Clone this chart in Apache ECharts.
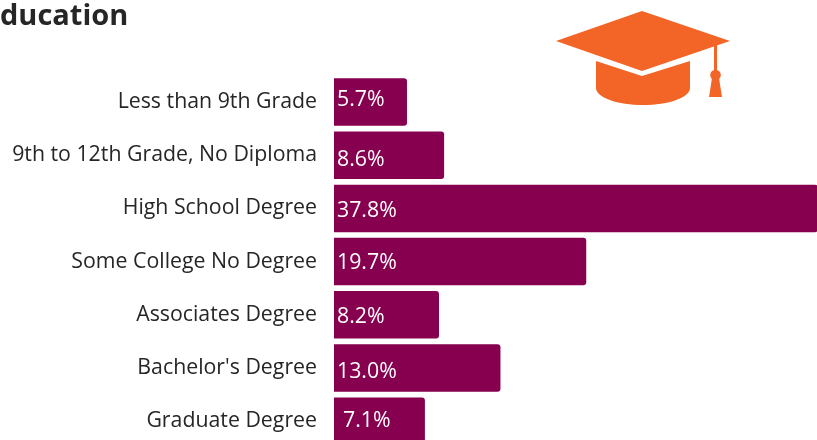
<!DOCTYPE html>
<html><head><meta charset="utf-8">
<style>html,body{margin:0;padding:0;background:#fff;overflow:hidden}#c{width:817px;height:440px}</style>
<script src="https://cdn.jsdelivr.net/npm/echarts@6/dist/echarts.min.js"></script>
</head><body><div id="c"></div>
<script>
const titleText = "ducation";
const categories = ["Less than 9th Grade","9th to 12th Grade, No Diploma","High School Degree","Some College No Degree","Associates Degree","Bachelor's Degree","Graduate Degree"];
const values = [5.7,8.6,37.8,19.7,8.2,13.0,7.1];
const labelNudgeX = [0,0,0,0,0,0,6];
const labelNudgeY = [-2,5,3,1,2,4,0];
const orange = "#f26527", plum = "#87004f", ink = "#262626", font = "'Open Sans'";
// lower rim of the cap icon: half an ellipse
const capRim = [];
for (let k = 0; k <= 32; k++) {
  const a = Math.PI * k / 32;
  capRim.push([643 + 47 * Math.cos(a), 88 + 17 * Math.sin(a)]);
}
const chart = echarts.init(document.getElementById('c'), null, {renderer:'canvas'});
chart.setOption({
  animation:false,
  backgroundColor:'#fff',
  title:{text:titleText,left:0,top:2,padding:0,textStyle:{fontFamily:font,fontWeight:'bold',fontSize:29,color:ink}},
  grid:{left:334,top:75.4,width:484,height:372.4,containLabel:false,outerBoundsMode:'none'},
  xAxis:{type:'value',min:0,max:37.8,show:false},
  yAxis:{type:'category',inverse:true,data:categories,
    axisLine:{show:false},axisTick:{show:false},
    axisLabel:{margin:17,fontFamily:font,fontSize:21.3,color:ink,padding:[4,0,0,0]}},
  series:[{type:'bar',barWidth:47.5,
    data:values.map((v,i)=>({value:v,label:{offset:[labelNudgeX[i],labelNudgeY[i]]}})),
    itemStyle:{color:plum,borderRadius:[0,3,3,0]},
    label:{show:true,position:'insideLeft',distance:3,fontFamily:font,fontSize:21.3,color:'#fff',
      formatter:p=>p.value.toFixed(1)+'%'}}],
  graphic:[
    {type:'polygon',shape:{points:[[596,61],[642,76],[690,61]].concat(capRim)},style:{fill:orange}},
    {type:'polygon',shape:{points:[[556,41],[642,11],[730,41],[642,71]]},style:{fill:orange}},
    {type:'rect',shape:{x:714,y:44,width:3,height:30},style:{fill:orange}},
    {type:'circle',shape:{cx:715.5,cy:75,r:5.3},style:{fill:orange}},
    {type:'polygon',shape:{points:[[712,78],[719,78],[722,97],[709,97]]},style:{fill:orange}}
  ]
});
</script></body></html>
